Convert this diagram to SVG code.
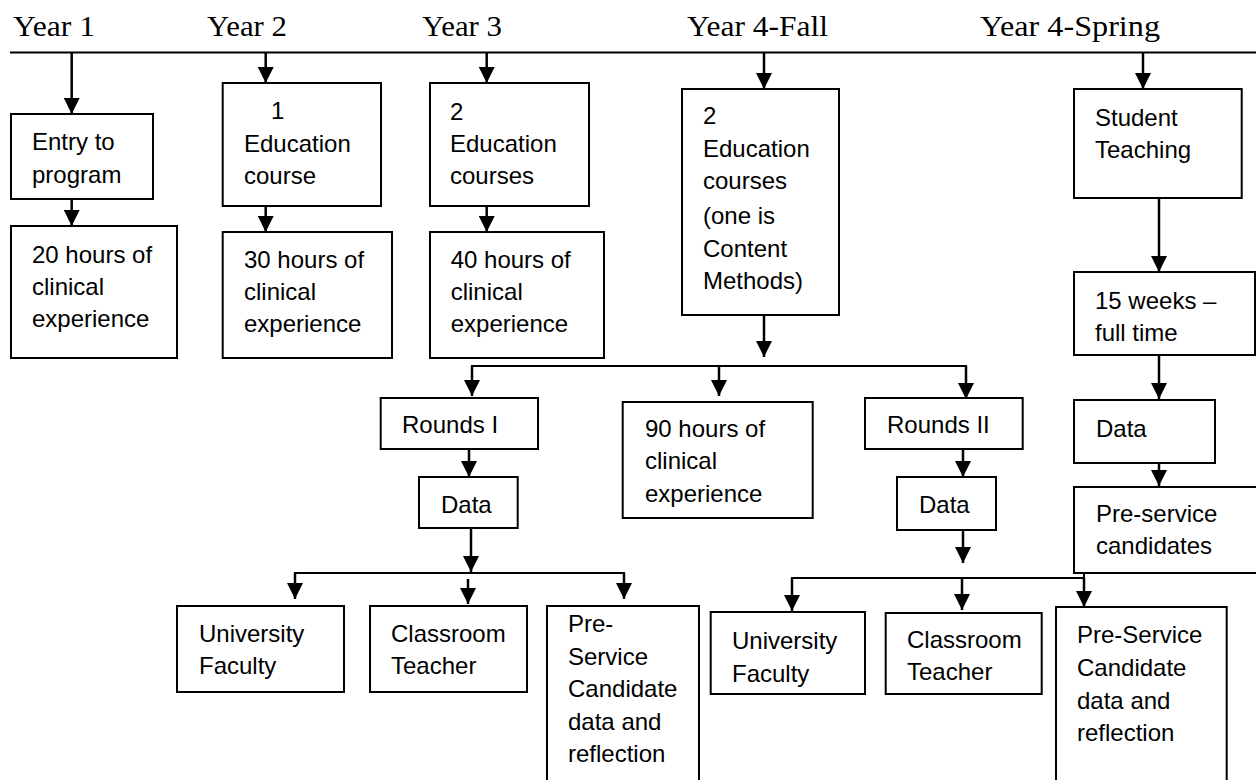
<svg xmlns="http://www.w3.org/2000/svg" width="1256" height="780" viewBox="0 0 1256 780">
<style>
.yr{font-family:"Liberation Serif","Times New Roman",serif;font-size:29px;fill:#000}
.t{font-family:"Liberation Sans",Arial,sans-serif;font-size:24px;fill:#000}
.b{fill:#fff;stroke:#000;stroke-width:2}
.c{fill:none;stroke:#000;stroke-width:2.5}
.h{fill:none;stroke:#000;stroke-width:2}
</style>
<defs>
<marker id="ah" markerUnits="userSpaceOnUse" markerWidth="16" markerHeight="16" viewBox="0 0 14 14" refX="14" refY="7" orient="auto">
<path d="M0,0 L14,7 L0,14 Z" fill="#000"/>
</marker>
</defs>
<rect width="1256" height="780" fill="#fff"/>
<g id="timeline">
<text class="yr" x="13" y="36" textLength="82" lengthAdjust="spacingAndGlyphs">Year 1</text>
<text class="yr" x="207" y="36" textLength="80" lengthAdjust="spacingAndGlyphs">Year 2</text>
<text class="yr" x="422" y="36" textLength="80" lengthAdjust="spacingAndGlyphs">Year 3</text>
<text class="yr" x="687" y="36" textLength="141" lengthAdjust="spacingAndGlyphs">Year 4-Fall</text>
<text class="yr" x="980" y="36" textLength="180" lengthAdjust="spacingAndGlyphs">Year 4-Spring</text>
<line class="h" x1="10" y1="52.5" x2="1256" y2="52.5"/>
</g>
<g id="connectors">
<line class="c" x1="71.7" y1="53" x2="71.7" y2="114" marker-end="url(#ah)"/>
<line class="c" x1="265.7" y1="53" x2="265.7" y2="83" marker-end="url(#ah)"/>
<line class="c" x1="486.7" y1="53" x2="486.7" y2="83" marker-end="url(#ah)"/>
<line class="c" x1="764" y1="53" x2="764" y2="89" marker-end="url(#ah)"/>
<line class="c" x1="1143" y1="53" x2="1143" y2="89" marker-end="url(#ah)"/>
<line class="c" x1="71.7" y1="199" x2="71.7" y2="226" marker-end="url(#ah)"/>
<line class="c" x1="265.7" y1="206" x2="265.7" y2="232" marker-end="url(#ah)"/>
<line class="c" x1="486.7" y1="206" x2="486.7" y2="232" marker-end="url(#ah)"/>
<line class="c" x1="764" y1="315" x2="764" y2="357" marker-end="url(#ah)"/>
<polyline class="h" points="472,395 472,366 966,366 966,398"/>
<line class="c" x1="472" y1="366" x2="472" y2="396" marker-end="url(#ah)"/>
<line class="c" x1="719" y1="366" x2="719" y2="396" marker-end="url(#ah)"/>
<line class="c" x1="966" y1="366" x2="966" y2="399" marker-end="url(#ah)"/>
<line class="c" x1="469" y1="449" x2="469" y2="477" marker-end="url(#ah)"/>
<line class="c" x1="471" y1="528" x2="471" y2="572" marker-end="url(#ah)"/>
<polyline class="h" points="295,599 295,573 624,573 624,599"/>
<line class="c" x1="295" y1="573" x2="295" y2="599" marker-end="url(#ah)"/>
<line class="c" x1="468" y1="579" x2="468" y2="604" marker-end="url(#ah)"/>
<line class="c" x1="624" y1="573" x2="624" y2="599" marker-end="url(#ah)"/>
<line class="c" x1="963" y1="449" x2="963" y2="477" marker-end="url(#ah)"/>
<line class="c" x1="963" y1="530" x2="963" y2="563" marker-end="url(#ah)"/>
<polyline class="h" points="792,611 792,578 1084,578"/>
<line class="h" x1="1084" y1="573" x2="1084" y2="580"/>
<line class="c" x1="792" y1="578" x2="792" y2="611" marker-end="url(#ah)"/>
<line class="c" x1="962" y1="578" x2="962" y2="610" marker-end="url(#ah)"/>
<line class="c" x1="1084" y1="578" x2="1084" y2="607" marker-end="url(#ah)"/>
<line class="c" x1="1159" y1="198" x2="1159" y2="272" marker-end="url(#ah)"/>
<line class="c" x1="1159" y1="355" x2="1159" y2="399" marker-end="url(#ah)"/>
<line class="c" x1="1159" y1="463" x2="1159" y2="486" marker-end="url(#ah)"/>
</g>
<g id="entry">
<rect class="b" x="11" y="114" width="142" height="85"/>
<text class="t" x="32" y="150">Entry to</text>
<text class="t" x="32" y="183">program</text>
</g>
<g id="hours20">
<rect class="b" x="11" y="226" width="166" height="132"/>
<text class="t" x="32" y="263">20 hours of</text>
<text class="t" x="32" y="295">clinical</text>
<text class="t" x="32" y="327">experience</text>
</g>
<g id="course1">
<rect class="b" x="222.7" y="83" width="158.3" height="123"/>
<text class="t" x="271" y="119">1</text>
<text class="t" x="244" y="152">Education</text>
<text class="t" x="244" y="184">course</text>
</g>
<g id="hours30">
<rect class="b" x="222.7" y="232" width="169.3" height="126"/>
<text class="t" x="244" y="268">30 hours of</text>
<text class="t" x="244" y="300">clinical</text>
<text class="t" x="244" y="332">experience</text>
</g>
<g id="courses2">
<rect class="b" x="430" y="83" width="159" height="123"/>
<text class="t" x="450" y="120">2</text>
<text class="t" x="450" y="152">Education</text>
<text class="t" x="450" y="184">courses</text>
</g>
<g id="hours40">
<rect class="b" x="430" y="232" width="174" height="126"/>
<text class="t" x="450.7" y="268">40 hours of</text>
<text class="t" x="450.7" y="300">clinical</text>
<text class="t" x="450.7" y="332">experience</text>
</g>
<g id="fall">
<rect class="b" x="682" y="89" width="157" height="226"/>
<text class="t" x="703" y="124">2</text>
<text class="t" x="703" y="157">Education</text>
<text class="t" x="703" y="189">courses</text>
<text class="t" x="703" y="224">(one is</text>
<text class="t" x="703" y="257">Content</text>
<text class="t" x="703" y="289">Methods)</text>
</g>
<g id="spring">
<rect class="b" x="1074" y="89" width="167.7" height="109"/>
<text class="t" x="1095" y="126">Student</text>
<text class="t" x="1095" y="158">Teaching</text>
</g>
<g id="weeks15">
<rect class="b" x="1074" y="272" width="181" height="83"/>
<text class="t" x="1095" y="309">15 weeks –</text>
<text class="t" x="1095" y="341">full time</text>
</g>
<g id="rounds1">
<rect class="b" x="380.7" y="398" width="157.3" height="51"/>
<text class="t" x="402" y="433">Rounds I</text>
</g>
<g id="data1">
<rect class="b" x="419" y="477" width="98.7" height="51"/>
<text class="t" x="441" y="513">Data</text>
</g>
<g id="hours90">
<rect class="b" x="622.7" y="402" width="190" height="116"/>
<text class="t" x="645" y="437">90 hours of</text>
<text class="t" x="645" y="469">clinical</text>
<text class="t" x="645" y="502">experience</text>
</g>
<g id="rounds2">
<rect class="b" x="865" y="398" width="157.7" height="51"/>
<text class="t" x="887" y="433">Rounds II</text>
</g>
<g id="data2">
<rect class="b" x="897" y="477" width="99" height="53"/>
<text class="t" x="919" y="513">Data</text>
</g>
<g id="data3">
<rect class="b" x="1074" y="400" width="141" height="63"/>
<text class="t" x="1096" y="437">Data</text>
</g>
<g id="preservice">
<rect class="b" x="1074" y="487" width="183" height="86"/>
<text class="t" x="1096" y="522">Pre-service</text>
<text class="t" x="1096" y="554">candidates</text>
</g>
<g id="faculty1">
<rect class="b" x="177" y="606" width="167" height="86"/>
<text class="t" x="199" y="642">University</text>
<text class="t" x="199" y="674">Faculty</text>
</g>
<g id="teacher1">
<rect class="b" x="370" y="606" width="157" height="86"/>
<text class="t" x="391" y="642">Classroom</text>
<text class="t" x="391" y="674">Teacher</text>
</g>
<g id="candidate1">
<rect class="b" x="547" y="606" width="152" height="190"/>
<text class="t" x="568" y="632">Pre-</text>
<text class="t" x="568" y="665">Service</text>
<text class="t" x="568" y="697">Candidate</text>
<text class="t" x="568" y="730">data and</text>
<text class="t" x="568" y="762">reflection</text>
</g>
<g id="faculty2">
<rect class="b" x="710.7" y="612" width="154.3" height="82"/>
<text class="t" x="732" y="649">University</text>
<text class="t" x="732" y="682">Faculty</text>
</g>
<g id="teacher2">
<rect class="b" x="885.7" y="613" width="156" height="81"/>
<text class="t" x="907" y="648">Classroom</text>
<text class="t" x="907" y="680">Teacher</text>
</g>
<g id="candidate2">
<rect class="b" x="1056" y="607" width="170.7" height="190"/>
<text class="t" x="1077" y="643">Pre-Service</text>
<text class="t" x="1077" y="676">Candidate</text>
<text class="t" x="1077" y="709">data and</text>
<text class="t" x="1077" y="741">reflection</text>
</g>
</svg>
